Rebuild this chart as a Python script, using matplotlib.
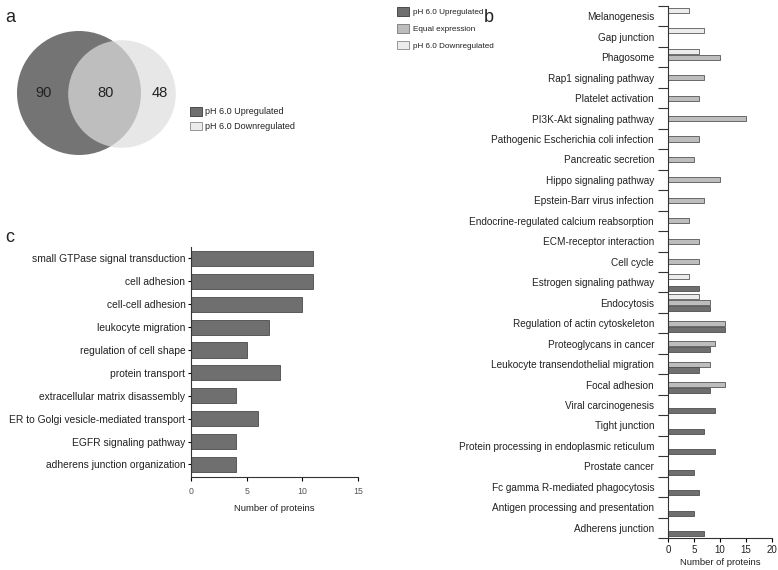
import matplotlib
matplotlib.use("Agg")
import matplotlib.pyplot as plt
from matplotlib.patches import Circle, Patch
import numpy as np

plt.rcParams['font.family'] = ['Liberation Sans', 'DejaVu Sans']

# panel a: venn counts
venn_up_only = 90
venn_both = 80
venn_down_only = 48
venn_labels = ['pH 6.0 Upregulated', 'pH 6.0 Downregulated']

# panel b: KEGG pathways
kegg_terms = ['Melanogenesis', 'Gap junction', 'Phagosome', 'Rap1 signaling pathway',
              'Platelet activation', 'PI3K-Akt signaling pathway',
              'Pathogenic Escherichia coli infection', 'Pancreatic secretion',
              'Hippo signaling pathway', 'Epstein-Barr virus infection',
              'Endocrine-regulated calcium reabsorption', 'ECM-receptor interaction',
              'Cell cycle', 'Estrogen signaling pathway', 'Endocytosis',
              'Regulation of actin cytoskeleton', 'Proteoglycans in cancer',
              'Leukocyte transendothelial migration', 'Focal adhesion',
              'Viral carcinogenesis', 'Tight junction',
              'Protein processing in endoplasmic reticulum', 'Prostate cancer',
              'Fc gamma R-mediated phagocytosis', 'Antigen processing and presentation',
              'Adherens junction']
kegg_up = [0, 0, 0, 0, 0, 0, 0, 0, 0, 0, 0, 0, 0, 6, 8, 11, 8, 6, 8, 9, 7, 9, 5, 6, 5, 7]
kegg_equal = [0, 0, 10, 7, 6, 15, 6, 5, 10, 7, 4, 6, 6, 0, 8, 11, 9, 8, 11, 0, 0, 0, 0, 0, 0, 0]
kegg_down = [4, 7, 6, 0, 0, 0, 0, 0, 0, 0, 0, 0, 0, 4, 6, 0, 0, 0, 0, 0, 0, 0, 0, 0, 0, 0]
kegg_series = ['pH 6.0 Upregulated', 'Equal expression', 'pH 6.0 Downregulated']

# panel c: GO biological process
go_terms = ['small GTPase signal transduction', 'cell adhesion', 'cell-cell adhesion',
            'leukocyte migration', 'regulation of cell shape', 'protein transport',
            'extracellular matrix disassembly', 'ER to Golgi vesicle-mediated transport',
            'EGFR signaling pathway', 'adherens junction organization']
go_counts = [11, 11, 10, 7, 5, 8, 4, 6, 4, 4]

DARK = '#6f6f6f'
MID = '#bdbdbd'
LIGHT = '#ececec'
EDGE = '#3a3a3a'
TXT = '#222222'

W, H = 778, 570
fig = plt.figure(figsize=(W / 100, H / 100), dpi=100)


def px_axes(x0, y0, x1, y1):
    # axes from pixel box (top-left origin)
    return fig.add_axes([x0 / W, 1 - y1 / H, (x1 - x0) / W, (y1 - y0) / H])


# ---------- panel a ----------
ax_a = px_axes(0, 0, 330, 200)
ax_a.set_xlim(0, 330)
ax_a.set_ylim(200, 0)
ax_a.axis('off')
scale = 62 / np.sqrt(venn_up_only + venn_both)
r1 = scale * np.sqrt(venn_up_only + venn_both)
r2 = scale * np.sqrt(venn_down_only + venn_both)
c1 = (79, 93)
c2 = (122, 94)
ax_a.add_patch(Circle(c1, r1, facecolor='#747474', edgecolor='none'))
ax_a.add_patch(Circle(c2, r2, facecolor='#dedede', edgecolor='none', alpha=0.7))
left1, right1 = c1[0] - r1, c1[0] + r1
left2, right2 = c2[0] - r2, c2[0] + r2
ax_a.text((left1 + left2) / 2 + 1, 93, str(venn_up_only), ha='center', va='center', fontsize=10.5, color=TXT)
ax_a.text((left2 + right1) / 2 + 1, 93, str(venn_both), ha='center', va='center', fontsize=10.5, color=TXT)
ax_a.text((right1 + right2) / 2 + 1, 93, str(venn_down_only), ha='center', va='center', fontsize=10.5, color=TXT)
fig.text(10 / W, 1 - 17 / H, 'a', fontsize=13, ha='center', va='center', color=TXT)
fig.legend(handles=[Patch(facecolor=DARK, edgecolor=EDGE, linewidth=0.6, label=venn_labels[0]),
                    Patch(facecolor=LIGHT, edgecolor='#888888', linewidth=0.6, label=venn_labels[1])],
           loc='upper left', bbox_to_anchor=(190 / W, 1 - 107 / H), frameon=False,
           fontsize=6.5, handlelength=1.3, handleheight=1.1, handletextpad=0.4,
           labelspacing=0.6, borderaxespad=0, borderpad=0, labelcolor=TXT)

# ---------- panel b ----------
ax_b = px_axes(668, 6, 772, 538)
n = len(kegg_terms)
y = np.arange(n)
h = 0.25
off = 0.29
ax_b.barh(y + off, kegg_up, height=h, color=DARK, edgecolor=EDGE, linewidth=0.5)
ax_b.barh(y, kegg_equal, height=h, color=MID, edgecolor=EDGE, linewidth=0.5)
ax_b.barh(y - off, kegg_down, height=h, color=LIGHT, edgecolor=EDGE, linewidth=0.5)
ax_b.set_ylim(n - 0.5, -0.5)
ax_b.set_xlim(0, 20)
ax_b.set_xticks([0, 5, 10, 15, 20])
ax_b.set_yticks(y)
ax_b.set_yticklabels(kegg_terms, fontsize=7.2, color=TXT)
ax_b.set_yticks(np.arange(-0.5, n, 1), minor=True)
ax_b.tick_params(axis='y', which='major', length=0, pad=10)
ax_b.tick_params(axis='y', which='minor', length=7, width=0.8, color='#333333')
ax_b.tick_params(axis='x', length=3, width=0.8, labelsize=7, labelcolor=TXT, pad=2)
ax_b.set_xlabel('Number of proteins', fontsize=6.8, color=TXT, labelpad=2)
for s in ['top', 'right']:
    ax_b.spines[s].set_visible(False)
for s in ['left', 'bottom']:
    ax_b.spines[s].set_linewidth(0.8)
    ax_b.spines[s].set_color('#333333')
fig.text(489 / W, 1 - 18 / H, 'b', fontsize=13, ha='center', va='center', color=TXT)
fig.legend(handles=[Patch(facecolor=DARK, edgecolor=EDGE, linewidth=0.6, label=kegg_series[0]),
                    Patch(facecolor=MID, edgecolor='#777777', linewidth=0.6, label=kegg_series[1]),
                    Patch(facecolor=LIGHT, edgecolor='#888888', linewidth=0.6, label=kegg_series[2])],
           loc='upper left', bbox_to_anchor=(397 / W, 1 - 7 / H), frameon=False,
           fontsize=5.9, handlelength=1.45, handleheight=1.25, handletextpad=0.45,
           labelspacing=0.95, borderaxespad=0, borderpad=0, labelcolor=TXT)

# ---------- panel c ----------
ax_c = px_axes(191, 247, 358, 477)
yc = np.arange(len(go_terms))
ax_c.barh(yc, go_counts, height=0.66, color=DARK, edgecolor='#4a4a4a', linewidth=0.6)
ax_c.set_ylim(len(go_terms) - 0.45, -0.5)
ax_c.set_xlim(0, 15)
ax_c.set_xticks([0, 5, 10, 15])
ax_c.set_yticks(yc)
ax_c.set_yticklabels(go_terms, fontsize=7.4, color=TXT)
ax_c.tick_params(axis='y', length=2.5, width=0.8, pad=1.5)
ax_c.tick_params(axis='x', length=3, width=0.8, labelsize=6.3, labelcolor='#555555', pad=4)
ax_c.set_xlabel('Number of proteins', fontsize=6.8, color=TXT, labelpad=6)
for s in ['top', 'right']:
    ax_c.spines[s].set_visible(False)
for s in ['left', 'bottom']:
    ax_c.spines[s].set_linewidth(0.8)
    ax_c.spines[s].set_color('#333333')
fig.text(10 / W, 1 - 238 / H, 'c', fontsize=13, ha='center', va='center', color=TXT)

fig.savefig('out.png', dpi=100)
